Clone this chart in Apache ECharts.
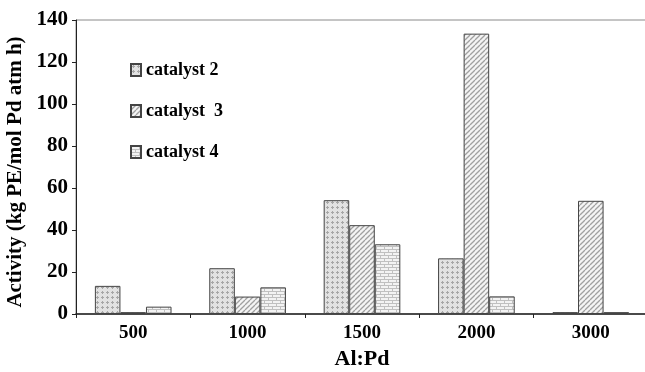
<!DOCTYPE html>
<html>
<head>
<meta charset="utf-8">
<script src="https://cdn.jsdelivr.net/npm/echarts@6/dist/echarts.min.js"></script>
<style>
html,body{margin:0;padding:0;background:#fff;}
#chart{width:645px;height:372px;}
</style>
</head>
<body>
<div id="chart"></div>
<script>
var categories = ['500', '1000', '1500', '2000', '3000'];
var catalyst2 = [13.4, 21.8, 54.2, 26.5, 0.9];
var catalyst3 = [0.9, 8.3, 42.3, 133.5, 53.9];
var catalyst4 = [3.5, 12.7, 33.2, 8.4, 0.9];
var seriesNames = ['catalyst 2', 'catalyst  3', 'catalyst 4'];
var yTicks = [0, 20, 40, 60, 80, 100, 120, 140];

function makeCanvas(w, h, draw) {
  var c = document.createElement('canvas');
  c.width = w; c.height = h;
  var ctx = c.getContext('2d');
  draw(ctx, w, h);
  return c;
}
var patDots = makeCanvas(5, 5, function (ctx, w, h) {
  ctx.fillStyle = '#e2e2e2'; ctx.fillRect(0, 0, w, h);
  ctx.fillStyle = '#a6a6a6';
  ctx.fillRect(2, 1, 1, 3);
  ctx.fillRect(1, 2, 3, 1);
});
var patHatch = makeCanvas(5, 5, function (ctx, w, h) {
  ctx.fillStyle = '#f4f4f4'; ctx.fillRect(0, 0, w, h);
  ctx.strokeStyle = '#a0a0a0'; ctx.lineWidth = 1.3;
  for (var k = -2; k <= 2; k++) {
    ctx.beginPath();
    ctx.moveTo(k * 5, h);
    ctx.lineTo(k * 5 + w, 0);
    ctx.stroke();
  }
});
var patBrick = makeCanvas(8, 6, function (ctx, w, h) {
  ctx.fillStyle = '#f3f3f3'; ctx.fillRect(0, 0, w, h);
  ctx.fillStyle = '#c0c0c0';
  ctx.fillRect(0, 0, w, 1);
  ctx.fillRect(0, 3, w, 1);
  ctx.fillRect(0, 0, 1, 3);
  ctx.fillRect(4, 3, 1, 3);
});

function pat(c) { return { image: c, repeat: 'repeat' }; }

var font = '"Liberation Serif", "Times New Roman", serif';
var chart = echarts.init(document.getElementById('chart'), null, { renderer: 'canvas' });

function barSeries(name, data, p) {
  return {
    name: name,
    type: 'bar',
    data: data,
    barGap: '0%',
    barCategoryGap: '33%',
    itemStyle: { color: pat(p), borderColor: '#444444', borderWidth: 1 },
    emphasis: { disabled: true }
  };
}

chart.setOption({
  animation: false,
  backgroundColor: '#ffffff',
  grid: {
    left: 76, right: -3, top: 20, bottom: 58,
    containLabel: false, outerBoundsMode: 'none',
    show: true, borderColor: '#8a8a8a', borderWidth: 1
  },
  legend: {
    orient: 'vertical',
    left: 125,
    top: 56,
    itemWidth: 10,
    itemHeight: 12,
    itemGap: 23,
    icon: 'rect',
    textStyle: { fontFamily: font, fontWeight: 'bold', fontSize: 18, color: '#000' },
    data: seriesNames
  },
  xAxis: {
    type: 'category',
    data: categories,
    name: 'Al:Pd',
    nameLocation: 'middle',
    nameGap: 25,
    nameTextStyle: { fontFamily: font, fontWeight: 'bold', fontSize: 22, color: '#000' },
    axisLine: { lineStyle: { color: '#222', width: 1.5 } },
    axisTick: { show: true, length: 4, lineStyle: { color: '#222' } },
    axisLabel: { fontFamily: font, fontWeight: 'bold', fontSize: 19, color: '#000', margin: 10 }
  },
  yAxis: {
    type: 'value',
    min: 0,
    max: 140,
    interval: 20,
    name: 'Activity (kg PE/mol Pd atm h)',
    nameLocation: 'middle',
    nameGap: 48,
    nameTextStyle: { fontFamily: font, fontWeight: 'bold', fontSize: 21, color: '#000', padding: [0, 10, 0, 0] },
    axisLine: { show: true, lineStyle: { color: '#222', width: 1 } },
    axisTick: { show: true, length: 4, lineStyle: { color: '#222' } },
    splitLine: { show: false },
    axisLabel: {
      fontFamily: font, fontWeight: 'bold', fontSize: 21, color: '#000', margin: 8,
      formatter: function (v) { return yTicks.indexOf(v) >= 0 ? String(v) : ''; }
    }
  },
  series: [
    barSeries(seriesNames[0], catalyst2, patDots),
    barSeries(seriesNames[1], catalyst3, patHatch),
    barSeries(seriesNames[2], catalyst4, patBrick)
  ]
});
</script>
</body>
</html>
